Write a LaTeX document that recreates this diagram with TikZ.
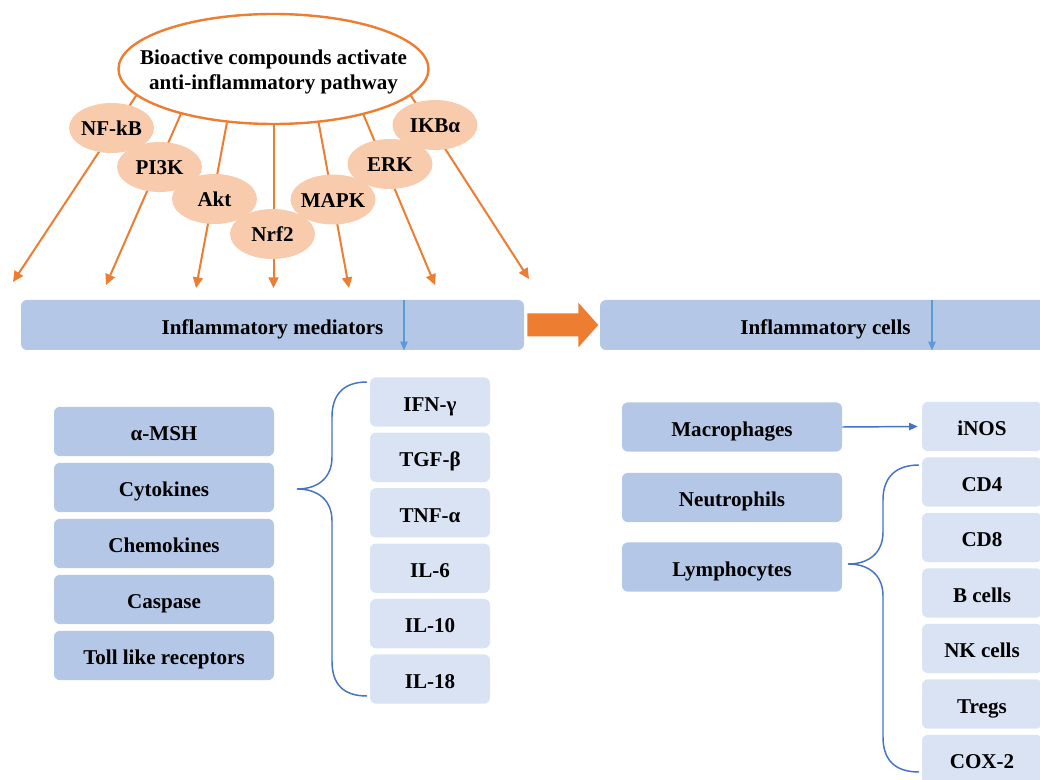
\documentclass[tikz,border=0pt]{standalone}
\usepackage{fontspec}
\setmainfont{Liberation Serif}
\usetikzlibrary{arrows.meta,shapes.geometric}
\definecolor{orng}{HTML}{ED7D31}
\definecolor{peach}{HTML}{F8CBAD}
\definecolor{barblue}{HTML}{B4C7E7}
\definecolor{lightblue}{HTML}{DAE3F3}
\definecolor{bracecol}{HTML}{4472C4}
\definecolor{arrblue}{HTML}{5B9BD5}
\newcommand\zt[1]{\smash{\makebox[0pt]{\raisebox{-0.36em}{#1}}}}
\begin{document}
\begin{tikzpicture}[x=0.75pt,y=-0.75pt,
 every node/.style={font=\fontsize{15.8}{18.8}\selectfont\bfseries},
 bigell/.style={ellipse,draw=orng,line width=1.8pt,fill=white,minimum width=232.5pt,minimum height=82.5pt,inner sep=0pt},
 smallell/.style={ellipse,fill=peach,minimum width=63.75pt,minimum height=37.5pt,inner sep=0pt},
 orarrow/.style={draw=orng,line width=1.5pt,-{Triangle[length=8pt,width=7.5pt]}},
 boxtext/.style={text height=14pt,text depth=0pt},
 barbox/.style={rectangle,rounded corners=4.5pt,fill=barblue,minimum height=37.5pt,inner sep=0pt,boxtext},
 darkbox/.style={rectangle,rounded corners=4.5pt,fill=barblue,minimum width=165pt,minimum height=37pt,inner sep=0pt,boxtext},
 lightbox/.style={rectangle,rounded corners=4.5pt,fill=lightblue,minimum width=90pt,minimum height=37pt,inner sep=0pt,boxtext},
 bracepath/.style={draw=bracecol,line width=1.1pt},
 bararrow/.style={draw=arrblue,line width=1.2pt,-{Triangle[length=6.5pt,width=5.5pt]}},
 thinarrow/.style={draw=bracecol,line width=1.1pt,-{Triangle[length=6.5pt,width=5.5pt]}},
]
\useasboundingbox (0,0) rectangle (1040,780);
\clip (0,0) rectangle (1040,780);

% top ellipse
\node[bigell] (big) at (273.5,69) {\smash{\makebox[0pt]{\raisebox{-6pt}{\begin{tabular}{@{}c@{}}Bioactive compounds activate\\anti-inflammatory pathway\end{tabular}}}}};

% arrow tips
\coordinate (t1) at (13,282);
\coordinate (t2) at (106,285);
\coordinate (t3) at (196,288);
\coordinate (t4) at (273.5,288);
\coordinate (t5) at (349,288);
\coordinate (t6) at (435,285);
\coordinate (t7) at (529,279);
\draw[orarrow] (big.191.3) -- (t1);
\draw[orarrow] (big.206.9) -- (t2);
\draw[orarrow] (big.229.3) -- (t3);
\draw[orarrow] (big.270) -- (t4);
\draw[orarrow] (big.310.1) -- (t5);
\draw[orarrow] (big.333.6) -- (t6);
\draw[orarrow] (big.349.4) -- (t7);

% pathway ellipses
\node[smallell] (nfkb) at (111.5,128) {\zt{NF-kB}};
\node[smallell] (pi3k) at (159.5,167) {\zt{PI3K}};
\node[smallell] (akt) at (214.5,199) {\zt{Akt}};
\node[smallell] (nrf2) at (272.5,234) {\zt{Nrf2}};
\node[smallell] (mapk) at (333,199.5) {\zt{MAPK}};
\node[smallell] (erk) at (390,164) {\zt{ERK}};
\node[smallell] (ikba) at (435,125) {\zt{IKBα}};

% bars
\node[barbox,minimum width=377.25pt] (bar1) at (272.5,325) {Inflammatory mediators};
\node[barbox,minimum width=338.25pt] (bar2) at (825.5,325) {Inflammatory cells};
\coordinate (m1) at (404,0);
\coordinate (m2) at (932,0);
\draw[bararrow] (bar1.north -| m1) -- (bar1.south -| m1);
\draw[bararrow] (bar2.north -| m2) -- (bar2.south -| m2);

% block arrow
\path (bar1.east) ++(3,0) coordinate (ba);
\fill[orng] (ba) ++(0,-11.5) -- ++(51,0) -- ++(0,-11) -- ++(20,22.5) -- ++(-20,22.5) -- ++(0,-11) -- ++(-51,0) -- cycle;

% left column
\node[darkbox] (amsh) at (164,431.5) {α-MSH};
\node[darkbox] (cyto) at (164,487.5) {Cytokines};
\node[darkbox] (chemo) at (164,543.5) {Chemokines};
\node[darkbox] (casp) at (164,599.5) {Caspase};
\node[darkbox] (tlr) at (164,655.5) {Toll like receptors};

% cytokine list
\node[lightbox] (ifn) at (430,402) {IFN-γ};
\node[lightbox] (tgf) at (430,457.4) {TGF-β};
\node[lightbox] (tnf) at (430,512.8) {TNF-α};
\node[lightbox] (il6) at (430,568.2) {IL-6};
\node[lightbox] (il10) at (430,623.6) {IL-10};
\node[lightbox] (il18) at (430,679) {IL-18};

% brace 1
\coordinate (b1top) at (367,382);
\coordinate (b1tip) at (297,489);
\coordinate (b1bot) at (367,696);
\draw[bracepath] (b1top) .. controls (343,382) and (332,395) .. (332,417) -- (332,457)
  .. controls (332,477) and (319,489) .. (b1tip)
  .. controls (319,489) and (332,501) .. (332,521) -- (332,661)
  .. controls (332,684) and (343,696) .. (b1bot);

% cells
\node[darkbox] (mac) at (732,427) {Macrophages};
\node[darkbox] (neu) at (732,497.5) {Neutrophils};
\node[darkbox] (lym) at (732,567) {Lymphocytes};

\node[lightbox] (inos) at (982,426.5) {iNOS};
\node[lightbox] (cd4) at (982,482) {CD4};
\node[lightbox] (cd8) at (982,537.5) {CD8};
\node[lightbox] (bc) at (982,593) {B cells};
\node[lightbox] (nk) at (982,648.5) {NK cells};
\node[lightbox] (treg) at (982,704) {Tregs};
\node[lightbox] (cox) at (982,759.5) {COX-2};

\draw[thinarrow,shorten >=3pt] (mac.east) -- (inos.west);

% brace 2
\coordinate (b2top) at (919,465);
\coordinate (b2tip) at (848,564);
\coordinate (b2bot) at (919,772);
\draw[bracepath] (b2top) .. controls (895,465) and (883,478) .. (883,500) -- (883,532)
  .. controls (883,552) and (870,564) .. (b2tip)
  .. controls (870,564) and (883,576) .. (883,596) -- (883,737)
  .. controls (883,760) and (895,772) .. (b2bot);
\end{tikzpicture}
\end{document}
